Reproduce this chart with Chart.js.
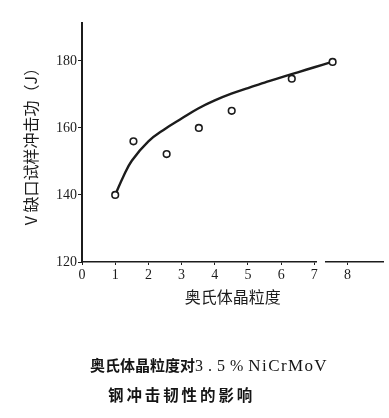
<!DOCTYPE html>
<html>
<head>
<meta charset="utf-8">
<script src="https://cdn.jsdelivr.net/npm/chart.js@4/dist/chart.umd.min.js"></script>
<style>
  html, body { margin: 0; padding: 0; background: #fff; }
  #wrap { position: relative; width: 389px; height: 418px; }
  canvas { position: absolute; left: 0; top: 0; }
  .cap { position: absolute; white-space: nowrap; color: #151515;
         font-family: "Noto Sans CJK SC", "Liberation Serif", serif; font-weight: 600; }
  .num { font-family: "Liberation Serif", serif; letter-spacing: 5px; font-size: 16px; font-weight: 400; }
  .ser { font-family: "Liberation Serif", serif; letter-spacing: 1.4px; font-size: 17px; font-weight: 400; }
</style>
</head>
<body>
<div id="wrap">
  <canvas id="c" width="389" height="418"></canvas>
  <div class="cap" id="cap1" style="left:90px; top:354px; font-size:15px;">奥氏体晶粒度对<span class="num">3.5%</span><span class="ser">NiCrMoV</span></div>
  <div class="cap" id="cap2" style="left:108px; top:383px; font-size:15.5px; letter-spacing:2.9px;">钢冲击韧性的影响</div>
</div>
<script>
// Measured points (grain size, impact energy J)
const grainSize = [1, 1.55, 2.55, 3.52, 4.51, 6.32, 7.55];
const impactEnergy = [140, 156, 152.2, 160, 165.1, 174.7, 179.7];

// Fitted curve
const curveX = [1, 1.25, 1.5, 2, 2.5, 3, 3.5, 4, 4.5, 5, 5.5, 6, 6.5, 7, 7.53];
const curveY = [140, 145.6, 150.2, 156.0, 159.7, 162.8, 165.8, 168.2, 170.2, 171.9, 173.5, 175.1, 176.6, 178.1, 179.7];

const xTicks = [0, 1, 2, 3, 4, 5, 6, 7, 8];
const yTicks = [120, 140, 160, 180];
const xRange = [0, 9.08];
const yRange = [120, 191.3];
const axisGap = [7.08, 7.32];

const xTitle = '奥氏体晶粒度';
const yTitle = 'V 缺口试样冲击功（J）';

const ink = '#1c1c1c';
const serif = '"Liberation Serif", "Noto Sans CJK SC", serif';

const gapPlugin = {
  id: 'gap',
  afterDraw(chart) {
    const xs = chart.scales.x;
    const ctx = chart.ctx;
    const a = xs.getPixelForValue(axisGap[0]);
    const b = xs.getPixelForValue(axisGap[1]);
    ctx.save();
    ctx.fillStyle = '#fff';
    ctx.fillRect(a, chart.chartArea.bottom - 3, b - a, 6);
    ctx.restore();
  }
};

new Chart(document.getElementById('c'), {
  type: 'scatter',
  data: {
    datasets: [
      {
        type: 'line',
        data: curveX.map((x, i) => ({ x, y: curveY[i] })),
        borderColor: ink,
        borderWidth: 2.4,
        pointRadius: 0,
        tension: 0.4,
        fill: false,
        order: 2
      },
      {
        data: grainSize.map((x, i) => ({ x, y: impactEnergy[i] })),
        backgroundColor: '#fff',
        borderColor: ink,
        borderWidth: 1.6,
        pointRadius: 3.3,
        order: 1
      }
    ]
  },
  options: {
    responsive: false,
    animation: false,
    layout: { padding: { left: 0, right: 2, top: 23, bottom: 108 } },
    plugins: { legend: { display: false }, tooltip: { enabled: false } },
    scales: {
      x: {
        type: 'linear',
        min: xRange[0], max: xRange[1],
        afterBuildTicks: s => { s.ticks = xTicks.map(v => ({ value: v })); },
        afterFit: s => { s.height = 48; },
        border: { display: true, color: ink, width: 1.6 },
        grid: { display: true, drawOnChartArea: false, drawTicks: true, tickLength: 3, color: ink, lineWidth: 1 },
        ticks: { color: ink, font: { family: serif, size: 14 }, padding: 2, maxRotation: 0, autoSkip: false },
        title: { display: true, text: xTitle, color: ink,
                 font: { family: '"Noto Sans CJK SC", serif', size: 16 }, padding: { top: 0, bottom: 3 } }
      },
      y: {
        type: 'linear',
        min: yRange[0], max: yRange[1],
        afterBuildTicks: s => { s.ticks = yTicks.map(v => ({ value: v })); },
        afterFit: s => { s.width = 82; },
        border: { display: true, color: ink, width: 2 },
        grid: { display: true, drawOnChartArea: false, drawTicks: true, tickLength: 4, color: ink, lineWidth: 1 },
        ticks: { color: ink, font: { family: serif, size: 14 }, padding: 1 },
        title: { display: true, text: yTitle, color: ink,
                 font: { family: '"Noto Sans CJK SC", serif', size: 16 }, padding: { top: 21, bottom: 0 } }
      }
    }
  },
  plugins: [gapPlugin]
});
</script>
</body>
</html>
